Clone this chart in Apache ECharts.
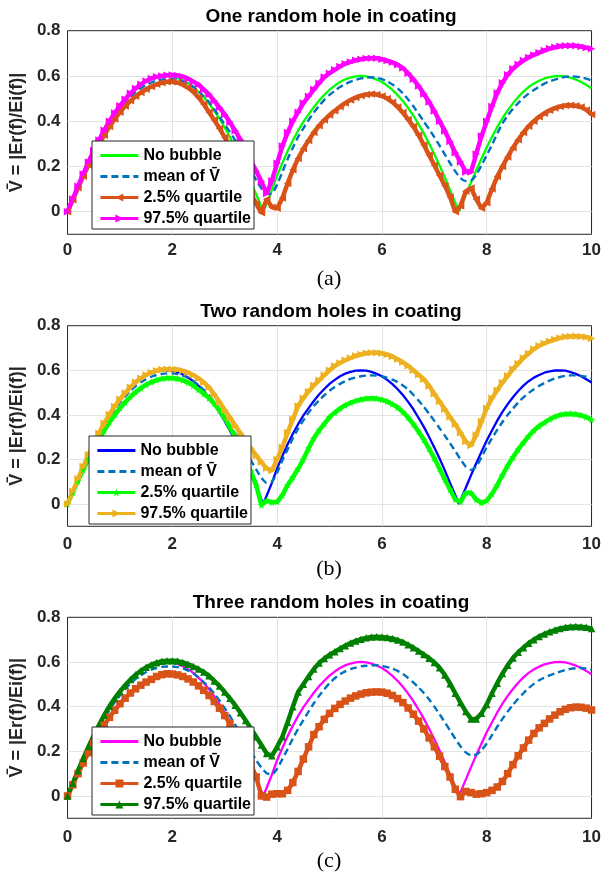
<!DOCTYPE html>
<html><head><meta charset="utf-8">
<script src="https://cdn.jsdelivr.net/npm/echarts@6/dist/echarts.min.js"></script>
<style>html,body{margin:0;padding:0;background:#fff}#c{width:604px;height:879px}</style>
</head><body><div id="c"></div>
<script>
// ---- shared frequency grid (x) ----
const X = [
 0,0.1,0.2,0.3,0.4,0.5,0.6,0.7,0.8,0.9,
 1,1.1,1.2,1.3,1.4,1.5,1.6,1.7,1.8,1.9,
 2,2.1,2.2,2.3,2.4,2.5,2.6,2.7,2.8,2.9,
 3,3.1,3.2,3.3,3.4,3.5,3.6,3.7,3.8,3.9,
 4,4.1,4.2,4.3,4.4,4.5,4.6,4.7,4.8,4.9,
 5,5.1,5.2,5.3,5.4,5.5,5.6,5.7,5.8,5.9,
 6,6.1,6.2,6.3,6.4,6.5,6.6,6.7,6.8,6.9,
 7,7.1,7.2,7.3,7.4,7.5,7.6,7.7,7.8,7.9,
 8,8.1,8.2,8.3,8.4,8.5,8.6,8.7,8.8,8.9,
 9,9.1,9.2,9.3,9.4,9.5,9.6,9.7,9.8,9.9,
 10];

// ---- "No bubble" curve (same in all panels), with its cusp points ----
const NB_X = [
 0,0.1,0.2,0.3,0.4,0.5,0.6,0.7,0.8,0.9,1,1.1,1.2,1.3,1.4,1.5,1.6,1.7,1.8,1.9,
 2,2.1,2.2,2.3,2.4,2.5,2.6,2.7,2.8,2.9,3,3.1,3.2,3.3,3.4,3.5,3.6,3.7,3.735,
 3.8,3.9,4,4.1,4.2,4.3,4.4,4.5,4.6,4.7,4.8,4.9,5,5.1,5.2,5.3,5.4,5.5,5.6,5.7,5.8,5.9,
 6,6.1,6.2,6.3,6.4,6.5,6.6,6.7,6.8,6.9,7,7.1,7.2,7.3,7.4,7.47,
 7.5,7.6,7.7,7.8,7.9,8,8.1,8.2,8.3,8.4,8.5,8.6,8.7,8.8,8.9,9,9.1,9.2,9.3,9.4,9.5,9.6,9.7,9.8,9.9,10];
const NB_Y = [
 0,.056,.112,.167,.219,.269,.316,.359,.399,.435,.468,.496,.522,.544,.562,.577,.588,.595,.599,.600,
 .597,.591,.581,.568,.551,.530,.506,.478,.446,.411,.372,.329,.284,.237,.186,.132,.076,.020,0,
 .037,.095,.160,.215,.268,.315,.358,.397,.430,.462,.491,.516,.539,.557,.573,.585,.593,.598,.600,.598,.593,.584,
 .573,.557,.538,.515,.489,.458,.425,.386,.346,.301,.254,.204,.151,.095,.039,0,
 .017,.073,.129,.183,.235,.285,.330,.374,.413,.448,.479,.507,.531,.551,.567,.579,.589,.595,.599,.600,.598,.592,.584,.573,.560,.545];

// ---- panel (a): one random hole ----
const MEAN_A = [
 0,.055,.110,.163,.214,.262,.307,.349,.388,.423,
 .455,.483,.508,.529,.546,.560,.571,.579,.584,.586,
 .586,.583,.576,.566,.552,.532,.510,.485,.452,.420,
 .385,.352,.315,.276,.232,.185,.140,.103,.078,.080,
 .120,.175,.232,.283,.330,.368,.405,.438,.468,.494,
 .516,.535,.551,.564,.575,.583,.589,.593,.594,.592,
 .586,.576,.562,.545,.523,.496,.466,.433,.398,.365,
 .330,.292,.253,.215,.178,.148,.135,.137,.163,.205,
 .250,.295,.345,.390,.425,.455,.480,.503,.522,.538,
 .553,.566,.576,.584,.591,.596,.598,.597,.594,.588,
 .580];
const Q025_A = [
 0,.053,.106,.157,.206,.253,.297,.338,.376,.410,
 .440,.467,.490,.510,.527,.541,.553,.563,.570,.574,
 .574,.570,.561,.548,.530,.505,.475,.440,.405,.368,
 .328,.283,.235,.183,.130,.080,.035,-.005,.055,.020,
 .015,.060,.125,.185,.235,.278,.315,.350,.380,.405,
 .427,.446,.464,.480,.494,.505,.513,.518,.520,.518,
 .511,.500,.484,.463,.438,.408,.376,.338,.295,.250,
 .205,.160,.115,.065,.000,.025,.090,.105,.055,.015,
 .040,.100,.155,.200,.242,.283,.318,.350,.378,.400,
 .420,.435,.448,.458,.465,.469,.470,.468,.463,.450,
 .430];
const Q975_A = [
 0,.056,.112,.167,.220,.270,.317,.360,.400,.436,
 .468,.497,.523,.545,.563,.578,.589,.596,.600,.603,
 .604,.602,.597,.588,.575,.562,.540,.518,.490,.460,
 .430,.395,.358,.318,.272,.225,.180,.133,.080,.137,
 .214,.290,.350,.400,.440,.480,.510,.540,.568,.595,
 .612,.627,.642,.654,.662,.669,.674,.677,.678,.678,
 .674,.668,.660,.650,.635,.612,.585,.556,.520,.485,
 .445,.400,.357,.310,.260,.220,.175,.175,.255,.335,
 .400,.465,.525,.570,.605,.632,.652,.668,.682,.693,
 .703,.712,.721,.727,.731,.734,.734,.733,.730,.725,
 .720];

// ---- panel (b): two random holes ----
const MEAN_B = [
 0,.055,.110,.163,.214,.262,.307,.349,.388,.423,
 .455,.483,.508,.529,.546,.560,.571,.579,.584,.586,
 .586,.583,.576,.566,.552,.534,.512,.487,.457,.425,
 .390,.353,.315,.275,.235,.195,.155,.118,.095,.100,
 .140,.195,.245,.295,.338,.375,.410,.440,.465,.488,
 .508,.525,.539,.551,.561,.568,.573,.576,.577,.576,
 .572,.566,.558,.547,.532,.514,.490,.464,.436,.405,
 .373,.340,.307,.272,.237,.200,.168,.153,.168,.210,
 .255,.295,.333,.368,.400,.428,.455,.478,.498,.515,
 .530,.543,.554,.563,.570,.575,.577,.577,.575,.571,
 .565];
const Q025_B = [
 0,.052,.104,.154,.202,.247,.290,.330,.367,.400,
 .430,.457,.481,.502,.520,.535,.547,.556,.562,.565,
 .565,.562,.555,.545,.531,.513,.495,.475,.450,.420,
 .385,.345,.300,.253,.200,.147,.085,-.005,.015,.008,
 .010,.040,.085,.120,.158,.200,.250,.295,.330,.360,
 .390,.410,.428,.443,.454,.463,.469,.473,.474,.473,
 .468,.460,.448,.433,.413,.388,.358,.325,.288,.248,
 .205,.158,.110,.065,.020,.010,.050,.050,.020,.005,
 .015,.045,.085,.130,.172,.210,.245,.275,.305,.330,
 .350,.365,.380,.392,.400,.404,.405,.403,.398,.390,
 .378];
const Q975_B = [
 0,.057,.113,.168,.221,.271,.318,.362,.402,.438,
 .470,.498,.524,.546,.564,.579,.590,.598,.603,.605,
 .605,.603,.598,.590,.579,.564,.546,.524,.492,.458,
 .422,.388,.352,.318,.284,.250,.218,.188,.160,.150,
 .200,.255,.320,.380,.440,.475,.505,.532,.555,.578,
 .600,.619,.633,.645,.655,.664,.671,.676,.679,.679,
 .676,.671,.662,.650,.636,.620,.600,.580,.560,.530,
 .495,.460,.425,.390,.358,.320,.280,.262,.310,.370,
 .430,.475,.510,.545,.575,.605,.630,.655,.675,.695,
 .710,.720,.730,.738,.745,.750,.752,.753,.752,.749,
 .743];

// ---- panel (c): three random holes ----
const MEAN_C = [
 0,.055,.109,.162,.212,.260,.305,.346,.384,.419,
 .450,.478,.503,.524,.541,.555,.566,.573,.578,.580,
 .580,.577,.571,.561,.548,.531,.510,.486,.458,.427,
 .393,.357,.318,.278,.238,.198,.160,.127,.102,.097,
 .122,.165,.210,.258,.300,.340,.378,.415,.448,.478,
 .505,.527,.545,.558,.568,.575,.580,.583,.585,.585,
 .582,.577,.570,.560,.546,.528,.508,.486,.461,.432,
 .400,.366,.330,.293,.256,.222,.195,.182,.185,.205,
 .235,.272,.310,.345,.378,.408,.435,.460,.483,.502,
 .518,.530,.540,.549,.557,.564,.569,.572,.573,.570,
 .565];
const Q025_C = [
 0,.050,.100,.148,.194,.238,.279,.317,.352,.384,
 .413,.438,.461,.480,.496,.510,.522,.535,.543,.547,
 .546,.542,.535,.524,.510,.493,.473,.450,.423,.393,
 .360,.325,.287,.245,.195,.140,.085,.000,-.005,.008,
 .010,.010,.025,.060,.110,.165,.220,.275,.310,.343,
 .370,.392,.410,.425,.438,.448,.456,.462,.465,.466,
 .465,.460,.450,.436,.418,.394,.366,.335,.300,.260,
 .220,.178,.132,.085,.030,-.003,.020,.015,.008,.010,
 .015,.025,.040,.065,.100,.140,.180,.215,.250,.280,
 .305,.325,.345,.362,.377,.388,.395,.398,.397,.393,
 .385];
const Q975_C = [
 0,.057,.113,.168,.221,.271,.318,.362,.402,.437,
 .468,.496,.521,.543,.561,.576,.588,.597,.603,.606,
 .606,.604,.598,.590,.580,.568,.555,.538,.515,.492,
 .465,.437,.406,.373,.338,.302,.265,.228,.190,.180,
 .220,.265,.330,.400,.465,.500,.535,.568,.595,.615,
 .632,.646,.660,.673,.685,.694,.702,.708,.712,.713,
 .712,.709,.705,.698,.689,.677,.664,.649,.633,.617,
 .598,.574,.542,.503,.460,.418,.378,.345,.345,.370,
 .410,.460,.505,.548,.585,.618,.643,.664,.684,.700,
 .714,.725,.735,.743,.750,.755,.758,.759,.758,.755,
 .750];

// ---- text ----
const TITLES = ['One random hole in coating','Two random holes in coating','Three random holes in coating'];
const CAPTIONS = ['(a)','(b)','(c)'];
const LEGEND_NAMES = ['No bubble','mean of V\u0304','2.5% quartile','97.5% quartile'];
const Y_NAME = 'V\u0304 = |Er(f)/Ei(f)|';
const X_TICKS = [0,2,4,6,8,10];

// ---- styling ----
const FONT = '"Liberation Sans", Arial, Helvetica, sans-serif';
const SERIF = '"Liberation Serif", "Times New Roman", serif';
const AX = '#262626';
const GRIDC = '#e3e3e3';
const SYM = {
  left: 'path://M0,5 L10,0 L10,10 Z',
  right: 'path://M10,5 L0,0 L0,10 Z',
  star: 'path://M5,0 L6.2,3.6 L10,3.6 L6.9,5.8 L8.1,9.6 L5,7.3 L1.9,9.6 L3.1,5.8 L0,3.6 L3.8,3.6 Z',
  square: 'rect',
  up: 'triangle'
};
const PANELS = [
  {key:'a', grid:{top:30.7,height:203.6}, xm:8, legend:{left:92,top:141}, titleTop:7.2, capTop:268,
   nb:'#00FF00', mean:MEAN_A, q1:Q025_A, q1c:'#D95319', q1s:SYM.left, q2:Q975_A, q2c:'#FF00FF', q2s:SYM.right},
  {key:'b', grid:{top:325.7,height:200.6}, xm:10, legend:{left:89,top:436}, titleTop:302.2, capTop:558,
   nb:'#0000FF', mean:MEAN_B, q1:Q025_B, q1c:'#00FF00', q1s:SYM.star, q2:Q975_B, q2c:'#EDB120', q2s:SYM.right},
  {key:'c', grid:{top:617.3,height:201}, xm:11, legend:{left:92,top:727}, titleTop:593.2, capTop:850,
   nb:'#FF00FF', mean:MEAN_C, q1:Q025_C, q1c:'#D95319', q1s:SYM.square, q2:Q975_C, q2c:'#008000', q2s:SYM.up}
];

const pairs = (xs, ys) => xs.map((x, i) => [x, ys[i]]);

const option = {
  animation: false,
  backgroundColor: '#fff',
  title: [], grid: [], xAxis: [], yAxis: [], legend: [], series: []
};

PANELS.forEach((p, gi) => {
  option.grid.push({left:66, width:529, top:p.grid.top, height:p.grid.height,
    show:true, borderColor:AX, borderWidth:1, backgroundColor:'#fff'});
  option.xAxis.push({type:'value', gridIndex:gi, min:X_TICKS[0], max:X_TICKS[X_TICKS.length-1], interval:2,
    axisLine:{show:false}, axisTick:{show:false},
    splitLine:{show:true, showMinLine:false, showMaxLine:false, lineStyle:{color:GRIDC, width:1}},
    axisLabel:{margin:p.xm, fontFamily:FONT, fontWeight:'bold', fontSize:17, color:AX}});
  option.yAxis.push({type:'value', gridIndex:gi, min:-0.1, max:0.8, interval:0.1,
    axisLine:{show:false, onZero:false}, axisTick:{show:false},
    splitLine:{show:true, showMaxLine:false, lineStyle:{color:['rgba(0,0,0,0)', GRIDC], width:1}},
    axisLabel:{margin:7, fontFamily:FONT, fontWeight:'bold', fontSize:17, color:AX,
      formatter: v => { const k = Math.round(v*10); return (k >= 0 && k % 2 === 0) ? (k === 0 ? '0' : (k/10).toFixed(1)) : ''; }},
    name:Y_NAME, nameLocation:'middle', nameRotate:90, nameGap:36,
    nameTextStyle:{fontFamily:FONT, fontWeight:'bold', fontSize:18, color:AX}});
  option.title.push({text:TITLES[gi], left:331, textAlign:'center', top:p.titleTop, padding:0,
    textStyle:{fontFamily:FONT, fontWeight:'bold', fontSize:19, color:'#000', lineHeight:19}});
  option.title.push({text:CAPTIONS[gi], left:329, textAlign:'center', top:p.capTop, padding:0,
    textStyle:{fontFamily:SERIF, fontWeight:'normal', fontSize:22, color:'#000', lineHeight:22}});

  const n = LEGEND_NAMES.map(s => p.key + '|' + s);
  option.series.push({name:n[0], type:'line', xAxisIndex:gi, yAxisIndex:gi, data:pairs(NB_X, NB_Y),
    symbol:'none', showSymbol:false, lineStyle:{color:p.nb, width:2.3}, itemStyle:{color:p.nb}});
  option.series.push({name:n[1], type:'line', xAxisIndex:gi, yAxisIndex:gi, data:pairs(X, p.mean),
    symbol:'none', showSymbol:false, smooth:0.2, lineStyle:{color:'#0072BD', width:2.4, type:[7,4]}, itemStyle:{color:'#0072BD'}});
  option.series.push({name:n[2], type:'line', xAxisIndex:gi, yAxisIndex:gi, data:pairs(X, p.q1),
    symbol:p.q1s, symbolSize:7.5, showSymbol:true, showAllSymbol:true,
    lineStyle:{color:p.q1c, width:4.5}, itemStyle:{color:p.q1c}});
  option.series.push({name:n[3], type:'line', xAxisIndex:gi, yAxisIndex:gi, data:pairs(X, p.q2),
    symbol:p.q2s, symbolSize:7.5, showSymbol:true, showAllSymbol:true,
    lineStyle:{color:p.q2c, width:4.5}, itemStyle:{color:p.q2c}});

  option.legend.push({
    left:p.legend.left, top:p.legend.top, orient:'vertical', selectedMode:false,
    itemWidth:38, itemHeight:10, itemGap:4, padding:[6,3,2,7],
    backgroundColor:'#fff', borderColor:AX, borderWidth:1, borderRadius:0,
    lineStyle:{width:2.8},
    textStyle:{fontFamily:FONT, fontWeight:'bold', fontSize:16, color:'#000', lineHeight:17},
    formatter: name => name.slice(2),
    data:[
      {name:n[0], itemStyle:{opacity:0}},
      {name:n[1], itemStyle:{opacity:0}},
      {name:n[2]},
      {name:n[3]}
    ]
  });
});

const chart = echarts.init(document.getElementById('c'), null, {renderer:'canvas'});
chart.setOption(option);
</script></body></html>
